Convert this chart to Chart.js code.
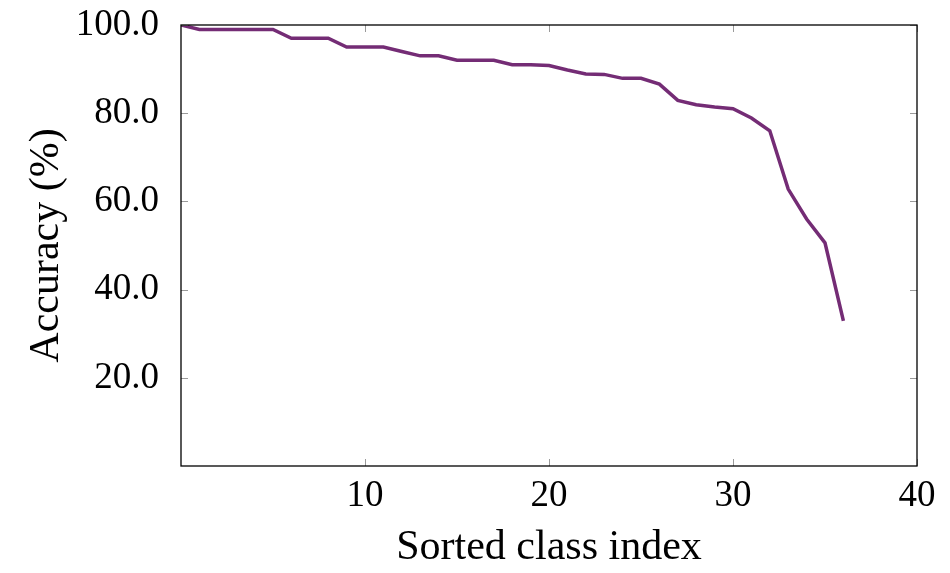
<!DOCTYPE html>
<html lang="en">
<head>
  <meta charset="UTF-8">
  <title>Accuracy per sorted class</title>
  <script src="https://cdn.jsdelivr.net/npm/chart.js"></script>
  <style>
    html, body {
      margin: 0;
      padding: 0;
      background: #ffffff;
    }
    #wrap {
      width: 950px;
      height: 573px;
    }
  </style>
</head>
<body>
  <div id="wrap"><canvas id="accChart"></canvas></div>

  <script>
    // class index after sorting by accuracy
    const classIndex = [0, 1, 2, 3, 4, 5, 6, 7, 8, 9, 10, 11, 12, 13, 14, 15, 16, 17, 18,
      19, 20, 21, 22, 23, 24, 25, 26, 27, 28, 29, 30, 31, 32, 33, 34, 35, 36];
    const accuracy = [100, 99, 99, 99, 99, 99, 97, 97, 97, 95, 95, 95, 94, 93, 93, 92, 92, 92, 91,
      91, 90.8, 89.8, 88.9, 88.8, 87.9, 87.9, 86.6, 82.9, 81.9, 81.4, 81.0, 78.9, 76.0, 62.8, 56.0, 50.6, 32.9];
    const xTicks = [10, 20, 30, 40];
    const yTicks = [20, 40, 60, 80, 100];

    const FONT = "'Liberation Serif', 'DejaVu Serif', serif";
    const lineColor = '#742c75';

    // pgfplots-like frame with inward ticks on all four sides
    const framePlugin = {
      id: 'frame',
      afterDatasetsDraw(chart) {
        const { ctx, chartArea: a, scales } = chart;
        ctx.save();
        ctx.strokeStyle = '#9a9a9a';
        ctx.lineWidth = 1;
        const len = 7;
        ctx.beginPath();
        xTicks.forEach(v => {
          const px = Math.round(scales.x.getPixelForValue(v)) + 0.5;
          ctx.moveTo(px, a.bottom); ctx.lineTo(px, a.bottom - len);
          ctx.moveTo(px, a.top); ctx.lineTo(px, a.top + len);
        });
        yTicks.forEach(v => {
          const py = Math.round(scales.y.getPixelForValue(v)) + 0.5;
          ctx.moveTo(a.left, py); ctx.lineTo(a.left + len, py);
          ctx.moveTo(a.right, py); ctx.lineTo(a.right - len, py);
        });
        ctx.stroke();
        ctx.strokeStyle = '#000000';
        ctx.lineWidth = 1.3;
        ctx.strokeRect(a.left, a.top, a.right - a.left, a.bottom - a.top);
        ctx.restore();
      }
    };

    new Chart(document.getElementById('accChart'), {
      type: 'line',
      data: {
        datasets: [{
          data: classIndex.map((x, i) => ({ x: x, y: accuracy[i] })),
          borderColor: lineColor,
          borderWidth: 3.5,
          pointRadius: 0,
          fill: false,
          tension: 0
        }]
      },
      options: {
        responsive: true,
        maintainAspectRatio: false,
        animation: false,
        layout: { padding: { top: 25, right: 33, left: 0, bottom: 0 } },
        plugins: { legend: { display: false }, tooltip: { enabled: false } },
        scales: {
          x: {
            type: 'linear',
            min: 0,
            max: 40,
            afterFit(s) { s.height = 107; s.paddingLeft = 0; s.paddingRight = 0; },
            border: { display: false },
            grid: { display: false },
            ticks: {
              stepSize: 10,
              padding: 0,
              color: '#000',
              font: { family: FONT, size: 37 },
              maxRotation: 0,
              callback: v => (v === 0 ? '' : v)
            },
            title: {
              display: true,
              text: 'Sorted class index',
              color: '#000',
              font: { family: FONT, size: 42 },
              padding: { top: 0, bottom: 0 }
            }
          },
          y: {
            min: 0,
            max: 100,
            afterFit(s) { s.width = 181; s.paddingTop = 0; s.paddingBottom = 0; },
            border: { display: false },
            grid: { display: false },
            ticks: {
              stepSize: 20,
              padding: 14,
              color: '#000',
              font: { family: FONT, size: 37 },
              callback: v => (v === 0 ? '' : v.toFixed(1))
            },
            title: {
              display: true,
              text: 'Accuracy (%)',
              color: '#000',
              font: { family: FONT, size: 42 },
              padding: { top: 22, bottom: 0 }
            }
          }
        }
      },
      plugins: [framePlugin]
    });
  </script>
</body>
</html>
